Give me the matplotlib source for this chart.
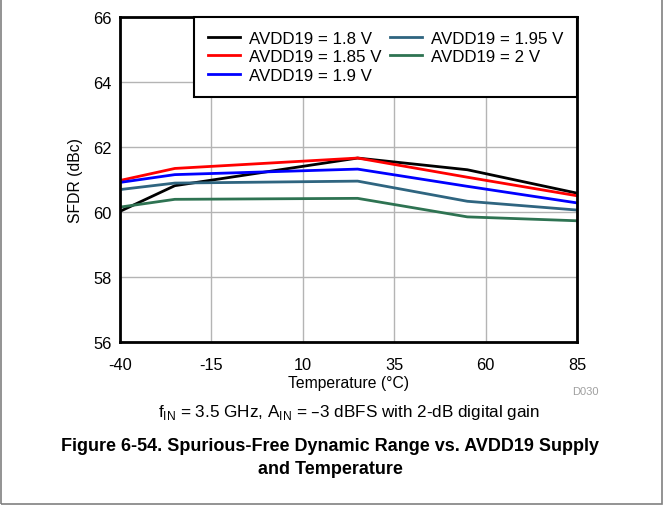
import matplotlib
matplotlib.use("Agg")
import matplotlib.pyplot as plt
from matplotlib.patches import Rectangle

plt.rcParams['font.family'] = ['Liberation Sans', 'DejaVu Sans']
plt.rcParams['axes.unicode_minus'] = False

temps = [-40, -25, 25, 55, 85]
labels = ["AVDD19 = 1.8 V", "AVDD19 = 1.85 V", "AVDD19 = 1.9 V", "AVDD19 = 1.95 V", "AVDD19 = 2 V"]
sfdr_180 = [60.02, 60.81, 61.66, 61.30, 60.58]
sfdr_185 = [60.97, 61.34, 61.66, 61.07, 60.50]
sfdr_190 = [60.91, 61.15, 61.32, 60.79, 60.28]
sfdr_195 = [60.69, 60.89, 60.95, 60.33, 60.06]
sfdr_200 = [60.15, 60.39, 60.42, 59.85, 59.73]
xticks = [-40, -15, 10, 35, 60, 85]
yticks = [56, 58, 60, 62, 64, 66]

series = [sfdr_180, sfdr_185, sfdr_190, sfdr_195, sfdr_200]
colors = ['#000000', '#FF0000', '#0000FF', '#2F6580', '#2E7352']

fig = plt.figure(figsize=(6.63, 5.06), dpi=100)
ax = fig.add_axes([120/663, 1-343/506, 457/663, 325/506])

for s, c, l in zip(series, colors, labels):
    ax.plot(temps, s, color=c, lw=2, label=l)

ax.set_xlim(-40, 85)
ax.set_ylim(56, 66)
ax.set_xticks(xticks)
ax.set_yticks(yticks)
ax.grid(True, color='#b4b4b4', lw=1)
ax.set_axisbelow(True)
for sp in ax.spines.values():
    sp.set_linewidth(2)
ax.tick_params(length=0, labelsize=11.8)
ax.tick_params(axis='x', pad=11)
ax.tick_params(axis='y', pad=6)
ax.set_xlabel("Temperature (°C)", fontsize=11.3, labelpad=2)
ax.set_ylabel("SFDR (dBc)", fontsize=11.3, labelpad=7)

leg = ax.legend(ncol=2, loc='upper right', fontsize=12.2, frameon=True, fancybox=False,
                edgecolor='black', framealpha=1, borderaxespad=0, handlelength=1.9,
                columnspacing=0.45, labelspacing=0.22, borderpad=0.8, handletextpad=0.55)
leg.get_frame().set_linewidth(1.5)

fig.text(585/663, 1-392/506, "D030", fontsize=8, color='#a0a0a0', ha='center', va='center')
fig.text(349/663, 1-413/506, r"f$_{\mathregular{IN}}$ = 3.5 GHz, A$_{\mathregular{IN}}$ = –3 dBFS with 2-dB digital gain",
         fontsize=12.3, ha='center', va='center')
fig.text(330/663, 1-447/506, "Figure 6-54. Spurious-Free Dynamic Range vs. AVDD19 Supply",
         fontsize=13, fontweight='bold', ha='center', va='center')
fig.text(330/663, 1-470/506, "and Temperature",
         fontsize=13, fontweight='bold', ha='center', va='center')

fig.patches.append(Rectangle((0.001, 0.001), 0.998, 1.2, transform=fig.transFigure,
                             fill=False, edgecolor='#808080', lw=1.2))

fig.savefig("out.png", dpi=100)
